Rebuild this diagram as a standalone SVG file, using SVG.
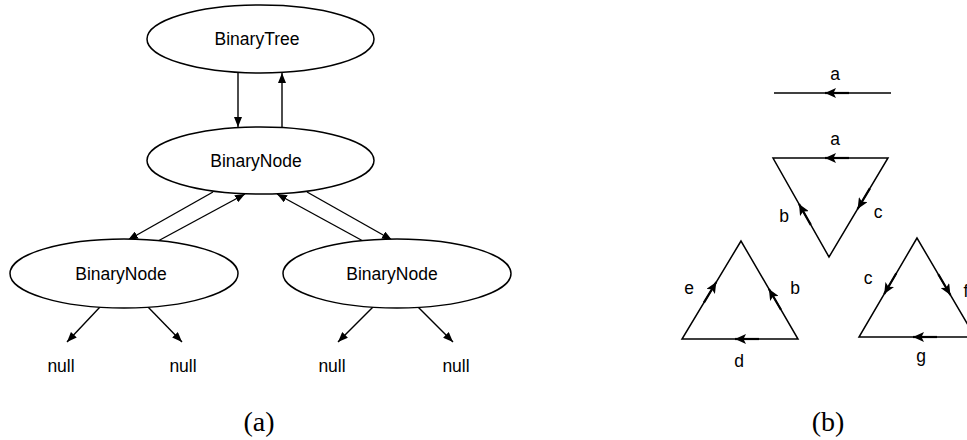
<svg xmlns="http://www.w3.org/2000/svg" width="967" height="440" viewBox="0 0 967 440">
  <defs>
    <marker id="head" markerUnits="userSpaceOnUse" markerWidth="10" markerHeight="8" refX="10" refY="4" orient="auto">
      <path d="M0,0 L10,4 L0,8 z" fill="#000"/>
    </marker>
    <marker id="midHead" markerUnits="userSpaceOnUse" markerWidth="11" markerHeight="10" refX="11" refY="5" orient="auto">
      <path d="M0,0 L11,5 L0,10 L2.5,5 z" fill="#000"/>
    </marker>
    <style>
      .node ellipse { fill: #fff; stroke: #000; stroke-width: 1.5; }
      .lbl { font-family: "Liberation Sans", Arial, sans-serif; font-size: 17.5px; fill: #000; text-anchor: middle; }
      .cap { font-family: "Liberation Serif", "Times New Roman", serif; font-size: 28px; fill: #000; text-anchor: middle; }
      .edge { stroke: #000; stroke-width: 1.4; fill: none; marker-end: url(#head); }
      .side { stroke: #000; stroke-width: 1.5; fill: none; stroke-linejoin: miter; }
      .mid { stroke: #000; stroke-width: 2.2; fill: none; marker-end: url(#midHead); }
    </style>
  </defs>

  <!-- (a) binary tree object structure -->
  <g id="connectors">
    <path class="edge" d="M238,73 L238,127"/>
    <path class="edge" d="M282,127 L282,73"/>
    <path class="edge" d="M213,192 L128,240"/>
    <path class="edge" d="M158,241 L245,194"/>
    <path class="edge" d="M307,192 L392,240"/>
    <path class="edge" d="M363,241 L277,194"/>
    <path class="edge" d="M100,307 L67,342"/>
    <path class="edge" d="M148,307 L182,342"/>
    <path class="edge" d="M373,307 L338,342"/>
    <path class="edge" d="M418,307 L453,342"/>
  </g>

  <g id="binaryTree" class="node">
    <ellipse cx="260.5" cy="39" rx="113.5" ry="34"/>
    <text class="lbl" x="257" y="44.5">BinaryTree</text>
  </g>
  <g id="rootNode" class="node">
    <ellipse cx="260.5" cy="160.5" rx="113.5" ry="33.5"/>
    <text class="lbl" x="256" y="167">BinaryNode</text>
  </g>
  <g id="leftNode" class="node">
    <ellipse cx="124" cy="273.5" rx="114" ry="34.5"/>
    <text class="lbl" x="121" y="280">BinaryNode</text>
  </g>
  <g id="rightNode" class="node">
    <ellipse cx="397" cy="273.5" rx="114" ry="34.5"/>
    <text class="lbl" x="392" y="280">BinaryNode</text>
  </g>

  <g id="nulls">
    <text class="lbl" x="61" y="372">null</text>
    <text class="lbl" x="183" y="372">null</text>
    <text class="lbl" x="332" y="372">null</text>
    <text class="lbl" x="456" y="372">null</text>
  </g>

  <text class="cap" x="259" y="431">(a)</text>

  <!-- (b) directed edges and triangles -->
  <g id="edgeA">
    <line class="side" x1="774" y1="93" x2="891" y2="93"/>
    <path class="mid" d="M849,93 L825,93"/>
    <text class="lbl" x="835" y="80">a</text>
  </g>

  <g id="triangleABC">
    <polygon class="side" points="773,158 888,158 829,257"/>
    <path class="mid" d="M849,158 L825,158"/>
    <path class="mid" d="M810.8,224.9 L799,204"/>
    <path class="mid" d="M869.9,188.4 L857.6,209"/>
    <text class="lbl" x="835" y="145">a</text>
    <text class="lbl" x="784" y="222">b</text>
    <text class="lbl" x="878" y="218">c</text>
  </g>

  <g id="triangleEBD">
    <polygon class="side" points="741,241 682,339 798,339"/>
    <path class="mid" d="M703.9,302.6 L716.3,282"/>
    <path class="mid" d="M781,309.7 L768.9,289"/>
    <path class="mid" d="M759,339 L735,339"/>
    <text class="lbl" x="689" y="294">e</text>
    <text class="lbl" x="795" y="294">b</text>
    <text class="lbl" x="739" y="367">d</text>
  </g>

  <g id="triangleCFG">
    <polygon class="side" points="917,238 859,337 975,337"/>
    <path class="mid" d="M896.3,273.3 L884.2,294"/>
    <path class="mid" d="M938.3,274.3 L950.4,295"/>
    <path class="mid" d="M937,337 L913,337"/>
    <text class="lbl" x="868" y="284">c</text>
    <text class="lbl" x="966" y="297">f</text>
    <text class="lbl" x="921" y="362">g</text>
  </g>

  <text class="cap" x="828" y="431">(b)</text>
</svg>
